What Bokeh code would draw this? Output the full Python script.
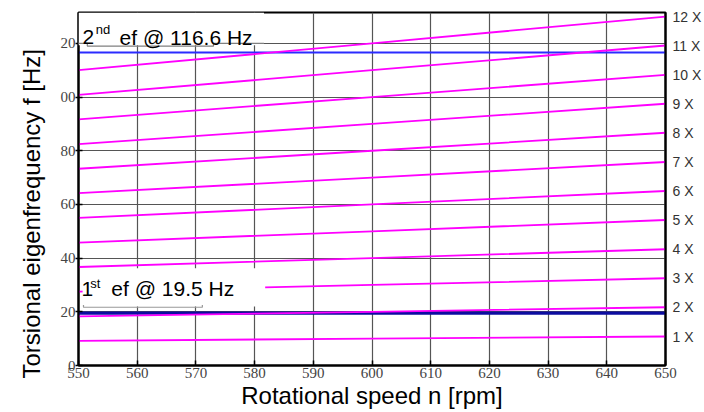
from bokeh.plotting import figure
from bokeh.models import Range1d, FixedTicker, LinearAxis, Label, BoxAnnotation, Title
from bokeh.embed import file_html
from bokeh.resources import INLINE

# ---------------- data ----------------
speed_rpm = [550, 600, 650]
f_1x = [9.2, 10.0, 10.8]
f_2x = [18.3, 20.0, 21.7]
f_3x = [27.5, 30.0, 32.5]
f_4x = [36.7, 40.0, 43.3]
f_5x = [45.8, 50.0, 54.2]
f_6x = [55.0, 60.0, 65.0]
f_7x = [64.2, 70.0, 75.8]
f_8x = [73.3, 80.0, 86.7]
f_9x = [82.5, 90.0, 97.5]
f_10x = [91.7, 100.0, 108.3]
f_11x = [100.8, 110.0, 119.2]
f_12x = [110.0, 120.0, 130.0]
order_series = [f_1x, f_2x, f_3x, f_4x, f_5x, f_6x, f_7x, f_8x, f_9x, f_10x, f_11x, f_12x]
order_labels = ["1 X", "2 X", "3 X", "4 X", "5 X", "6 X", "7 X", "8 X", "9 X", "10 X", "11 X", "12 X"]

ef_1 = 19.5    # 1st torsional eigenfrequency [Hz]
ef_2 = 116.6   # 2nd torsional eigenfrequency [Hz]

x_ticks = [550, 560, 570, 580, 590, 600, 610, 620, 630, 640, 650]
y_ticks = [0, 20, 40, 60, 80, 100, 120]
y_tick_text = {100: "00", 120: "20"}   # leading digit is cut off in the reference

# ---------------- layout constants ----------------
X0, X1 = 550, 650
Y0, Y1 = 0, 131.5
SANS = "Liberation Sans"
SERIF = "Liberation Serif"
MAGENTA = "#ff00ff"
GRID = "#555555"

p = figure(width=704, height=412, output_backend="svg", toolbar_location=None,
           x_range=Range1d(X0, X1), y_range=Range1d(Y0, Y1),
           min_border_left=78, min_border_right=38, min_border_top=12, min_border_bottom=47,
           background_fill_color="white", border_fill_color="white")
p.outline_line_color = "black"
p.outline_line_width = 2

# axes
xa = p.xaxis[0]
ya = p.yaxis[0]
xa.ticker = FixedTicker(ticks=x_ticks)
ya.ticker = FixedTicker(ticks=y_ticks)
ya.major_label_overrides = y_tick_text
for ax in (xa, ya):
    ax.axis_line_color = "black"
    ax.axis_line_width = 2
    ax.major_tick_line_color = "black"
    ax.major_tick_line_width = 1.5
    ax.minor_tick_line_color = None
    ax.major_label_text_font = SERIF
    ax.major_label_text_font_size = "15px"
    ax.major_label_text_color = "#444444"
xa.major_tick_in = 5
xa.major_tick_out = 0
xa.major_label_standoff = 2
xa.axis_label = "Rotational speed n [rpm]"
xa.axis_label_text_font = SANS
xa.axis_label_text_font_size = "24px"
xa.axis_label_text_font_style = "normal"
xa.axis_label_text_color = "black"
xa.axis_label_standoff = 1
ya.major_tick_in = 4
ya.major_tick_out = 3
ya.major_label_standoff = 0
ya.axis_label = None

# order labels as a right-hand axis at the line end values
end_values = [f[-1] for f in order_series]
right_ax = LinearAxis(ticker=FixedTicker(ticks=end_values),
                      major_label_overrides=dict(zip(end_values, order_labels)),
                      major_tick_in=0, major_tick_out=0, major_label_standoff=7,
                      minor_tick_line_color=None, axis_line_color="black", axis_line_width=2,
                      major_label_text_font=SANS, major_label_text_font_size="14px",
                      major_label_text_color="#333333")
p.add_layout(right_ax, "right")

# y title
p.add_layout(Title(text="Torsional eigenfrequency f [Hz]", align="left", offset=-13,
                   vertical_align="bottom", standoff=25,
                   text_font=SANS, text_font_size="24px", text_font_style="normal",
                   text_color="black"), "left")

p.xgrid.ticker = FixedTicker(ticks=x_ticks)
p.ygrid.ticker = FixedTicker(ticks=y_ticks)
for g in (p.xgrid[0], p.ygrid[0]):
    g.grid_line_color = GRID
    g.grid_line_width = 1.2

# eigenfrequency lines
p.line([X0, X1], [ef_2, ef_2], line_color="#2b2bff", line_width=2)
p.line([X0, X1], [ef_1, ef_1], line_color="#0c0ca0", line_width=3.2)

# order lines
for f in order_series:
    p.line(speed_rpm, f, line_color=MAGENTA, line_width=1.8)

# annotation boxes
box2 = BoxAnnotation(left=X0, right=581.6, bottom=119.3, top=Y1,
                     fill_color="white", fill_alpha=1.0, line_color=None)
box1 = BoxAnnotation(left=550.7, right=581.8, bottom=22.0, top=36.2,
                     fill_color="white", fill_alpha=1.0, line_color=None)
p.add_layout(box2)
p.add_layout(box1)

# bracket marks under the boxes
p.line([X0, 551.5, 551.5, 573.0, 573.0, 581.6], [120, 120, 119.0, 119.0, 120, 120],
       line_color="#808080", line_width=1.2, level="overlay")
p.line([550.85, 550.85, 571.1, 571.1], [22.5, 21.7, 21.7, 22.5],
       line_color="#999999", line_width=1.2, level="overlay")

def txt(x, y, s, size):
    p.add_layout(Label(x=x, y=y, text=s, text_font=SANS, text_font_size=size,
                       text_color="black", text_baseline="alphabetic", text_align="left",
                       level="overlay"))

txt(550.7, 122.3, "2", "21px")
txt(552.95, 125.3, "nd", "13px")
txt(557.0, 122.3, "ef @ 116.6 Hz", "21px")

txt(550.5, 28.6, "1", "21px")
txt(552.0, 30.7, "st", "13px")
txt(555.6, 28.6, "ef @ 19.5 Hz", "21px")

open("out.html", "w").write(file_html(p, INLINE))
